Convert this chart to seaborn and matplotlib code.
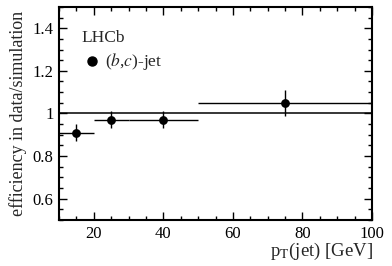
"""Efficiency ratio data/simulation vs jet pT"""

import pandas as pd
import matplotlib
matplotlib.use('Agg')
import matplotlib.pyplot as plt
from matplotlib.ticker import MultipleLocator
import seaborn as sns

PT = [15, 25, 40, 75]
PT_LOW = [10, 20, 30, 50]
PT_HIGH = [20, 30, 50, 100]
RATIO = [0.91, 0.97, 0.97, 1.05]
RATIO_ERR = [0.04, 0.04, 0.04, 0.06]
X_TICKS = [20, 40, 60, 80, 100]
Y_TICKS = [0.6, 0.8, 1.0, 1.2, 1.4]
Y_TICK_LABELS = ['0.6', '0.8', '1', '1.2', '1.4']

sns.set_theme(style='ticks')
plt.rcParams['font.family'] = ['Liberation Serif', 'DejaVu Serif']
plt.rcParams['mathtext.fontset'] = 'stix'

df = pd.DataFrame({'pt': PT, 'lo': PT_LOW, 'hi': PT_HIGH,
                   'ratio': RATIO, 'err': RATIO_ERR})

fig = plt.figure(figsize=(3.92, 2.66), dpi=100)
ax = fig.add_axes([0.1505, 0.173, 0.7985, 0.801])

ax.axhline(1.0, color='black', lw=1.1, zorder=1)
ax.errorbar(df['pt'], df['ratio'],
            xerr=[df['pt'] - df['lo'], df['hi'] - df['pt']],
            yerr=df['err'], fmt='none', ecolor='black', elinewidth=1.0,
            capsize=0, zorder=2)
sns.scatterplot(data=df, x='pt', y='ratio', ax=ax, color='black', s=40,
                edgecolor='black', linewidth=0, zorder=3, legend=False)

ax.set_xlim(10, 100)
ax.set_ylim(0.5, 1.5)
ax.set_xticks(X_TICKS)
ax.set_yticks(Y_TICKS)
ax.set_yticklabels(Y_TICK_LABELS)
ax.xaxis.set_minor_locator(MultipleLocator(5))
ax.yaxis.set_minor_locator(MultipleLocator(0.05))
ax.tick_params(which='both', direction='in', top=True, right=True,
               labelsize=12, width=1.0, colors='black')
ax.tick_params(which='major', length=6, pad=4)
ax.tick_params(which='minor', length=3)
for sp in ax.spines.values():
    sp.set_linewidth(1.5)
    sp.set_color('black')

ax.set_xlabel(r'p$_{\mathrm{T}}$(jet) [GeV]', fontsize=13.5, labelpad=2)
ax.xaxis.set_label_coords(1.003, -0.1, transform=ax.transAxes)
ax.xaxis.label.set_horizontalalignment('right')
ax.xaxis.label.set_verticalalignment('top')
ax.set_ylabel('efficiency in data/simulation', fontsize=13, loc='center',
              labelpad=4)

ax.text(0.073, 0.852, 'LHCb', transform=ax.transAxes, fontsize=12.5,
        ha='left', va='center')
ax.plot([0.105], [0.746], 'o', color='black', ms=6.5,
        transform=ax.transAxes)
ax.text(0.147, 0.746, r'($b$,$c$)-jet', transform=ax.transAxes,
        fontsize=12.5, ha='left', va='center')

fig.savefig('out.png', dpi=100)
plt.close(fig)
